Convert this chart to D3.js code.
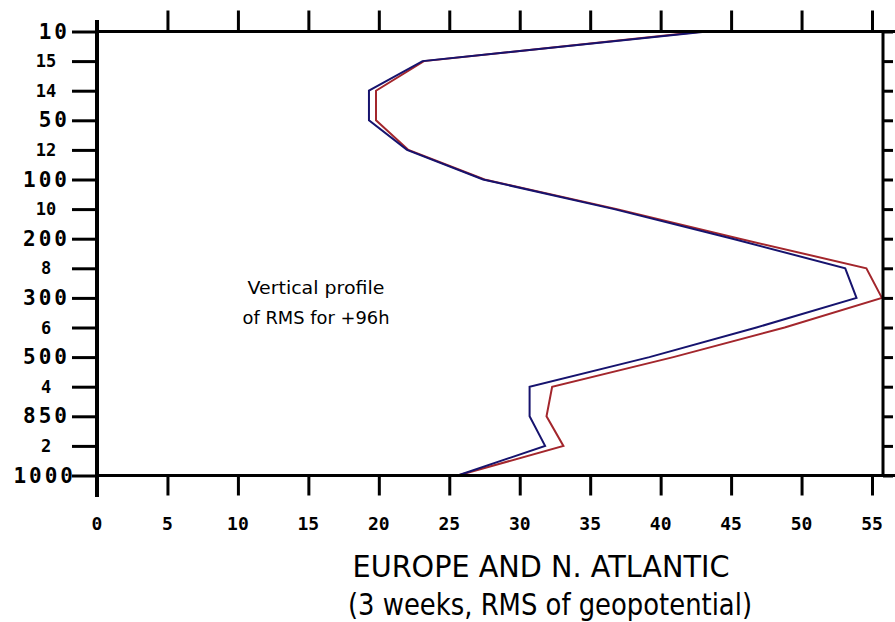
<!DOCTYPE html>
<html>
<head>
<meta charset="utf-8">
<script src="https://cdn.jsdelivr.net/npm/d3@7"></script>
<style>
  body { margin: 0; background: #fff; }
  svg { display: block; }
</style>
</head>
<body>
<div id="graph"></div>
<script>
let w = 895;
let h = 622;

// level index 1 (bottom) .. 16 (top)
let levels = d3.range(1, 17);
let levelLabels = ["1000", "2", "850", "4", "500", "6", "300", "8", "200", "10", "100", "12", "50", "14", "15", "10"];
let pressureLevels = [1, 3, 5, 7, 9, 11, 13, 16];

let blueRMS = [25.6, 31.8, 30.7, 30.7, 39.2, 46.8, 53.9, 53.1, 45.1, 36.7, 27.4, 22.0, 19.3, 19.3, 23.1, 43.3];
let redRMS  = [25.6, 33.1, 31.9, 32.3, 40.9, 48.8, 55.7, 54.6, 45.6, 36.9, 27.5, 22.1, 19.8, 19.8, 23.2, 43.0];

let xTicks = [0, 5, 10, 15, 20, 25, 30, 35, 40, 45, 50, 55];

let plotLeft = 97, plotRight = 883, plotTop = 31.5, plotBottom = 475.5;

let xScale = d3.scaleLinear().domain([0, 55.78]).range([plotLeft, plotRight]);
let yScale = d3.scaleLinear().domain([1, 16]).range([plotBottom, plotTop]);

let viz = d3.select("#graph").append("svg")
  .attr("width", w)
  .attr("height", h);

// lines
let line = d3.line()
  .x(d => xScale(d.v))
  .y(d => yScale(d.level));

function toPoints(arr){
  return arr.map((v, i) => ({level: levels[i], v: v}));
}

viz.append("path")
  .attr("d", line(toPoints(redRMS)))
  .attr("fill", "none")
  .attr("stroke", "#a3262c")
  .attr("stroke-width", 2);

viz.append("path")
  .attr("d", line(toPoints(blueRMS)))
  .attr("fill", "none")
  .attr("stroke", "#16136e")
  .attr("stroke-width", 2);

// axes
let xAxisBottom = d3.axisBottom(xScale).tickValues(xTicks).tickSize(20).tickFormat("");
let xAxisTop = d3.axisTop(xScale).tickValues(xTicks.slice(1)).tickSize(21).tickFormat("");
let yAxisLeft = d3.axisLeft(yScale).tickValues(levels).tickSize(25).tickFormat("");
let yAxisRight = d3.axisRight(yScale).tickValues(levels).tickSize(10).tickFormat("");

function styleAxis(g){
  g.select(".domain").remove();
  g.selectAll(".tick line").attr("stroke", "#000").attr("stroke-width", 3);
}

viz.append("g").attr("transform", "translate(0," + plotBottom + ")").call(xAxisBottom).call(styleAxis);
viz.append("g").attr("transform", "translate(0," + plotTop + ")").call(xAxisTop).call(styleAxis);
viz.append("g").attr("transform", "translate(" + plotLeft + ",0)").call(yAxisLeft).call(styleAxis);
viz.append("g").attr("transform", "translate(" + plotRight + ",0)").call(yAxisRight).call(styleAxis);

// frame
viz.append("line").attr("x1", plotLeft).attr("x2", 895).attr("y1", plotTop).attr("y2", plotTop)
  .attr("stroke", "#000").attr("stroke-width", 3);
viz.append("line").attr("x1", plotLeft).attr("x2", 895).attr("y1", plotBottom).attr("y2", plotBottom)
  .attr("stroke", "#000").attr("stroke-width", 3);
viz.append("line").attr("x1", plotRight).attr("x2", plotRight).attr("y1", plotTop).attr("y2", plotBottom)
  .attr("stroke", "#000").attr("stroke-width", 3);
viz.append("line").attr("x1", plotLeft).attr("x2", plotLeft).attr("y1", 20).attr("y2", 497)
  .attr("stroke", "#000").attr("stroke-width", 4);

// x tick labels
viz.selectAll(".xlab").data(xTicks).enter()
  .append("text")
  .attr("class", "xlab")
  .attr("x", d => xScale(d))
  .attr("y", 530)
  .attr("text-anchor", "middle")
  .style("font-family", "'DejaVu Sans Mono', monospace")
  .style("font-weight", "bold")
  .style("font-size", "18px")
  .text(d => d);

// y labels
viz.selectAll(".ylab").data(levels).enter()
  .append("text")
  .attr("class", "ylab")
  .attr("x", d => d == 1 ? 76 : (pressureLevels.includes(d) ? 70 : 46))
  .attr("y", d => yScale(d) + (pressureLevels.includes(d) ? 7 : 6))
  .attr("text-anchor", d => pressureLevels.includes(d) ? "end" : "middle")
  .style("font-family", "'DejaVu Sans Mono', monospace")
  .style("font-weight", "bold")
  .style("font-size", d => pressureLevels.includes(d) ? "21px" : "17px")
  .style("letter-spacing", d => pressureLevels.includes(d) ? "3px" : "0px")
  .text(d => levelLabels[d - 1]);

// annotation + titles
let handFont = "'Comic Sans MS', 'DejaVu Sans', sans-serif";

viz.append("text").attr("x", 316).attr("y", 294).attr("text-anchor", "middle")
  .attr("textLength", 137).attr("lengthAdjust", "spacingAndGlyphs")
  .style("font-family", handFont).style("font-size", "18px")
  .text("Vertical profile");
viz.append("text").attr("x", 316).attr("y", 324).attr("text-anchor", "middle")
  .attr("textLength", 147).attr("lengthAdjust", "spacingAndGlyphs")
  .style("font-family", handFont).style("font-size", "18px")
  .text("of RMS for +96h");

viz.append("text").attr("x", 541).attr("y", 577).attr("text-anchor", "middle")
  .attr("textLength", 377).attr("lengthAdjust", "spacingAndGlyphs")
  .style("font-family", handFont).style("font-size", "30px")
  .text("EUROPE AND N. ATLANTIC");
viz.append("text").attr("x", 550).attr("y", 615).attr("text-anchor", "middle")
  .attr("textLength", 404).attr("lengthAdjust", "spacingAndGlyphs")
  .style("font-family", handFont).style("font-size", "30px")
  .text("(3 weeks, RMS of geopotential)");
</script>
</body>
</html>
